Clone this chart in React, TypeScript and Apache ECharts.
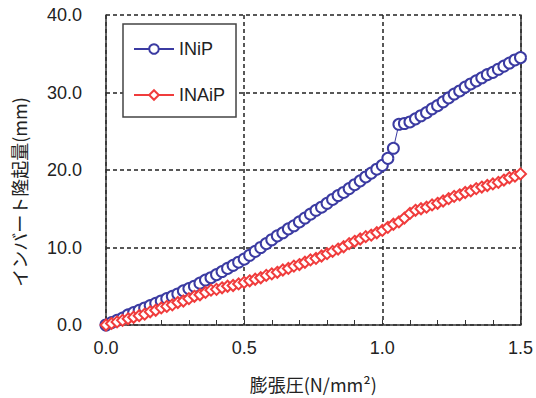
import React, { useEffect, useRef } from "react";
import * as echarts from "echarts";

// 膨張圧 (N/mm²)
const pressure = [
  0.0, 0.02, 0.04, 0.06, 0.08, 0.1, 0.12, 0.14, 0.16, 0.18,
  0.2, 0.22, 0.24, 0.26, 0.28, 0.3, 0.32, 0.34, 0.36, 0.38,
  0.4, 0.42, 0.44, 0.46, 0.48, 0.5, 0.52, 0.54, 0.56, 0.58,
  0.6, 0.62, 0.64, 0.66, 0.68, 0.7, 0.72, 0.74, 0.76, 0.78,
  0.8, 0.82, 0.84, 0.86, 0.88, 0.9, 0.92, 0.94, 0.96, 0.98,
  1.0, 1.02, 1.04, 1.06, 1.08, 1.1, 1.12, 1.14, 1.16, 1.18,
  1.2, 1.22, 1.24, 1.26, 1.28, 1.3, 1.32, 1.34, 1.36, 1.38,
  1.4, 1.42, 1.44, 1.46, 1.48, 1.5,
];

// インバート隆起量 (mm) — INiP
const iniP = [
  0.0, 0.3, 0.6, 0.9, 1.3, 1.6, 1.9, 2.2, 2.5, 2.8,
  3.1, 3.4, 3.7, 4.0, 4.4, 4.7, 5.0, 5.4, 5.8, 6.1,
  6.5, 6.9, 7.3, 7.7, 8.1, 8.5, 9.0, 9.5, 10.0, 10.5,
  11.0, 11.5, 11.9, 12.4, 12.8, 13.3, 13.8, 14.3, 14.8, 15.2,
  15.7, 16.2, 16.7, 17.1, 17.6, 18.1, 18.6, 19.1, 19.6, 20.1,
  20.6, 21.5, 22.8, 25.9, 26.0, 26.2, 26.6, 27.0, 27.4, 27.9,
  28.3, 28.8, 29.3, 29.8, 30.2, 30.7, 31.1, 31.5, 31.9, 32.3,
  32.6, 33.0, 33.4, 33.8, 34.2, 34.5,
];

// インバート隆起量 (mm) — INAiP
const inaiP = [
  0.0, 0.2, 0.4, 0.6, 0.8, 1.0, 1.2, 1.4, 1.7, 1.9,
  2.2, 2.4, 2.6, 2.9, 3.1, 3.4, 3.7, 3.9, 4.2, 4.5,
  4.6, 4.8, 5.0, 5.1, 5.3, 5.5, 5.7, 5.9, 6.1, 6.4,
  6.6, 6.8, 7.1, 7.3, 7.6, 7.8, 8.1, 8.4, 8.6, 8.9,
  9.2, 9.5, 9.8, 10.1, 10.5, 10.8, 11.1, 11.4, 11.6, 11.9,
  12.2, 12.6, 13.0, 13.3, 13.8, 14.4, 14.8, 15.0, 15.2, 15.5,
  15.7, 16.0, 16.3, 16.6, 16.8, 17.1, 17.3, 17.6, 17.8, 18.0,
  18.2, 18.4, 18.7, 19.0, 19.2, 19.5,
];

const seriesNames = ["INiP", "INAiP"];
const xAxisName = "膨張圧(N/mm²)";
const yAxisName = "インバート隆起量(mm)";

const BLUE = "#3b3ba2";
const RED = "#f03c3c";
const INK = "#222";

export default function App() {
  const ref = useRef<HTMLDivElement>(null);

  useEffect(() => {
    const chart = echarts.init(ref.current!, null, { renderer: "svg" });
    const toPairs = (ys: number[]) => pressure.map((x, i) => [x, ys[i]]);
    const dash = { type: [4, 3], color: "#222", width: 1.5 };

    chart.setOption({
      animation: false,
      backgroundColor: "#fff",
      grid: { left: 106, right: 12, top: 15, bottom: 71 },
      legend: {
        orient: "vertical",
        left: 123,
        top: 24,
        padding: [15, 11, 12, 10],
        itemWidth: 40,
        itemHeight: 12,
        itemGap: 26,
        borderColor: "#444",
        borderWidth: 1.5,
        backgroundColor: "#fff",
        textStyle: {
          fontSize: 18,
          fontFamily: "Liberation Sans",
          color: INK,
          lineHeight: 20,
        },
        data: seriesNames,
      },
      xAxis: {
        type: "value",
        min: 0,
        max: 1.5,
        interval: 0.5,
        name: xAxisName,
        nameLocation: "middle",
        nameGap: 50,
        nameTextStyle: {
          fontSize: 18,
          fontFamily: "Noto Sans CJK JP",
          color: INK,
        },
        axisLine: { show: true, lineStyle: { color: "#333", width: 1.5 } },
        axisTick: { show: true, inside: true, length: 5, lineStyle: { color: "#333", width: 1 } },
        minorTick: { show: true, splitNumber: 5, length: 5, lineStyle: { color: "#333", width: 1 } },
        axisLabel: {
          margin: 14,
          fontSize: 18,
          fontFamily: "Liberation Sans",
          color: INK,
          formatter: (v: number) => v.toFixed(1),
        },
        splitLine: { show: true, lineStyle: dash },
      },
      yAxis: [
        {
          type: "value",
          min: 0,
          max: 40,
          interval: 10,
          name: yAxisName,
          nameLocation: "middle",
          nameGap: 78,
          nameRotate: 90,
          nameTextStyle: {
            fontSize: 18,
            fontFamily: "Noto Sans CJK JP",
            color: INK,
            padding: [0, 44, 0, 0],
          },
          axisLine: { show: true, lineStyle: { color: "#333", width: 1.5 } },
          axisTick: { show: false },
          axisLabel: {
            margin: 24,
            fontSize: 18,
            fontFamily: "Liberation Sans",
            color: INK,
            formatter: (v: number) => v.toFixed(1),
          },
          splitLine: { show: true, lineStyle: dash },
        },
        {
          type: "value",
          position: "right",
          min: 0,
          max: 40,
          interval: 10,
          axisLine: { show: true, lineStyle: { color: "#333", width: 1.5 } },
          axisTick: { show: false },
          axisLabel: { show: false },
          splitLine: { show: false },
        },
      ],
      series: [
        {
          type: "line",
          name: seriesNames[0],
          data: toPairs(iniP),
          symbol: "emptyCircle",
          symbolSize: 11,
          color: BLUE,
          lineStyle: { width: 1, color: BLUE },
          itemStyle: { color: BLUE, borderWidth: 1.2 },
        },
        {
          type: "line",
          name: seriesNames[1],
          data: toPairs(inaiP),
          symbol: "emptyDiamond",
          symbolSize: 11,
          color: RED,
          lineStyle: { width: 1, color: RED },
          itemStyle: { color: RED, borderWidth: 1.2 },
        },
      ],
    });

    return () => chart.dispose();
  }, []);

  return (
    <div
      ref={ref}
      style={{ position: "absolute", left: 0, top: 0, width: 536, height: 398 }}
    />
  );
}
